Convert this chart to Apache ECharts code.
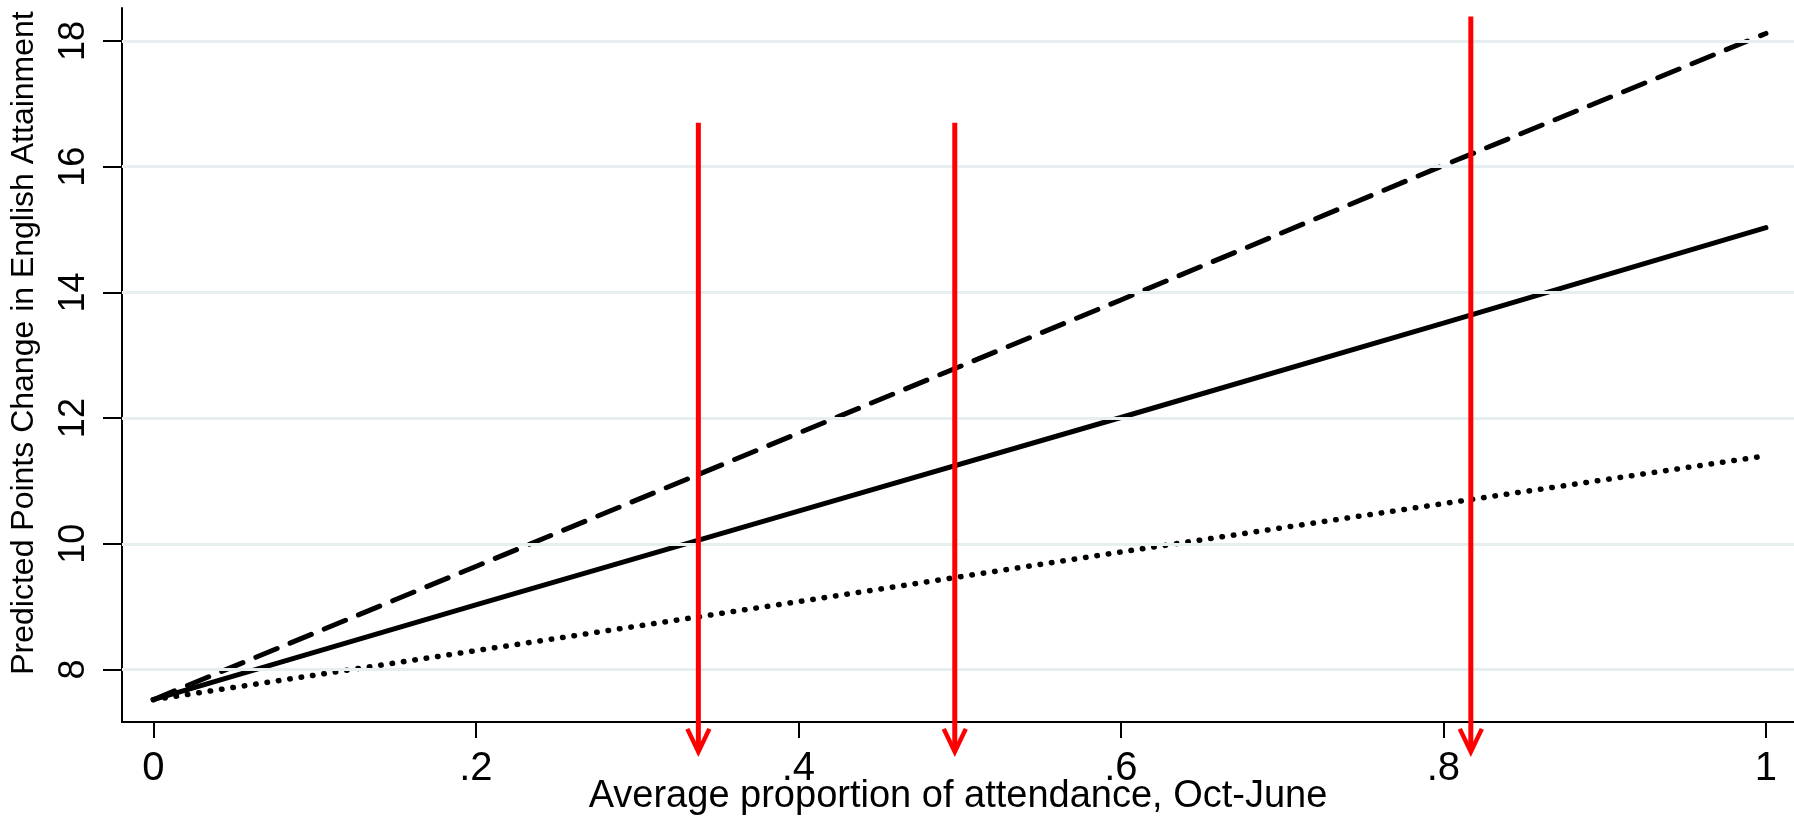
<!DOCTYPE html>
<html>
<head>
<meta charset="utf-8">
<script src="https://cdn.jsdelivr.net/npm/echarts@6/dist/echarts.min.js"></script>
<style>
html,body{margin:0;padding:0;background:#fff;}
#chart{width:1794px;height:818px;}
</style>
</head>
<body>
<div id="chart"></div>
<script>
// ---- data ----
const xPoints = [0, 0.2, 0.4, 0.6, 0.8, 1.0];
const solidValues  = [7.52, 9.03, 10.52, 12.01, 13.51, 15.03];
const dashedValues = [7.52, 9.64, 11.76, 13.88, 16.02, 18.12];
const dottedValues = [7.52, 8.30, 9.08, 9.87, 10.64, 11.40];

const arrowX      = [0.338, 0.497, 0.817];
const arrowTop    = [16.70, 16.70, 18.39];
const arrowBottom = [6.69, 6.69, 6.69];

const xTickValues = [0, 0.2, 0.4, 0.6, 0.8, 1];
const xTickLabels = ['0', '.2', '.4', '.6', '.8', '1'];
const yTickValues = [8, 10, 12, 14, 16, 18];
const yTickLabels = ['8', '10', '12', '14', '16', '18'];

const xTitle = 'Average proportion of attendance, Oct-June';
const yTitle = 'Predicted Points Change in English Attainment';

// ---- build ----
const FONT = "'Liberation Sans', Arial, sans-serif";
function pairs(xs, ys){ return xs.map((x,i)=>[x, ys[i]]); }

const chart = echarts.init(document.getElementById('chart'), null, {renderer:'canvas'});
const option = {
  animation: false,
  backgroundColor: '#ffffff',
  grid: { left: 122, top: 8, right: 0, bottom: 96, containLabel: false, outerBoundsMode: 'none' },
  xAxis: {
    type: 'value', min: -0.0194, max: 1.0174,
    name: xTitle, nameLocation: 'middle', nameGap: 56, nameMoveOverlap: false,
    nameTextStyle: { fontFamily: FONT, fontSize: 38, color: '#000' },
    axisLine: { show: true, onZero: false, lineStyle: { color: '#000', width: 2 } },
    axisTick: { show: true, length: 16, lineStyle: { color: '#000', width: 2 }, customValues: xTickValues },
    axisLabel: {
      show: true, customValues: xTickValues, margin: 27,
      fontFamily: FONT, fontSize: 40, color: '#000',
      formatter: function(v){ const i = xTickValues.findIndex(t=>Math.abs(t-v)<1e-9); return i>=0 ? xTickLabels[i] : ''; }
    },
    splitLine: { show: false }
  },
  yAxis: {
    type: 'value', min: 7.165, max: 18.525,
    name: yTitle, nameLocation: 'middle', nameGap: 82, nameRotate: 90, nameMoveOverlap: false,
    nameTextStyle: { fontFamily: FONT, fontSize: 32, color: '#000', padding: [0, 0, 0, 44] },
    axisLine: { show: true, onZero: false, lineStyle: { color: '#000', width: 2 } },
    axisTick: { show: true, length: 19, lineStyle: { color: '#000', width: 2 }, customValues: yTickValues },
    axisLabel: {
      show: true, customValues: yTickValues, rotate: 90, margin: 30,
      fontFamily: FONT, fontSize: 36, color: '#000',
      formatter: function(v){ const i = yTickValues.findIndex(t=>Math.abs(t-v)<1e-9); return i>=0 ? yTickLabels[i] : ''; }
    },
    splitLine: { show: false }
  },
  series: [
    {
      name: 'grid', type: 'line', data: [], silent: true, z: 1,
      markLine: {
        silent: true, symbol: ['none','none'], label: { show: false },
        lineStyle: { color: '#E6EEEF', width: 3, type: 'solid' },
        data: yTickValues.map(v => ({ yAxis: v }))
      }
    },
    {
      name: 'dotted', type: 'line', data: pairs(xPoints, dottedValues),
      showSymbol: false, z: 3, clip: false,
      lineStyle: { color: '#000', width: 5.5, type: [0.5, 11], cap: 'round' }
    },
    {
      name: 'solid', type: 'line', data: pairs(xPoints, solidValues),
      showSymbol: false, z: 3, clip: false,
      lineStyle: { color: '#000', width: 5, type: 'solid', cap: 'round' }
    },
    {
      name: 'dashed', type: 'line', data: pairs(xPoints, dashedValues),
      showSymbol: false, z: 3, clip: false,
      lineStyle: { color: '#000', width: 5, type: [23, 14], cap: 'round' }
    },
    {
      name: 'arrows', type: 'custom', z: 5, clip: false,
      encode: { x: 0, y: [1, 2] },
      data: arrowX.map((x,i)=>[x, arrowTop[i], arrowBottom[i]]),
      renderItem: function(params, api){
        const x = api.value(0), top = api.value(1), bot = api.value(2);
        const p1 = api.coord([x, top]);
        const p2 = api.coord([x, bot]);
        return {
          type: 'group',
          children: [
            { type: 'line', shape: { x1: p1[0], y1: p1[1], x2: p2[0], y2: p2[1] - 2 },
              style: { stroke: '#FF0000', lineWidth: 5 } },
            { type: 'polyline', shape: { points: [[p2[0]-11, p2[1]-23], [p2[0], p2[1]], [p2[0]+11, p2[1]-23]] },
              style: { stroke: '#FF0000', lineWidth: 4.5, fill: null } }
          ]
        };
      }
    }
  ]
};
chart.setOption(option);
</script>
</body>
</html>
